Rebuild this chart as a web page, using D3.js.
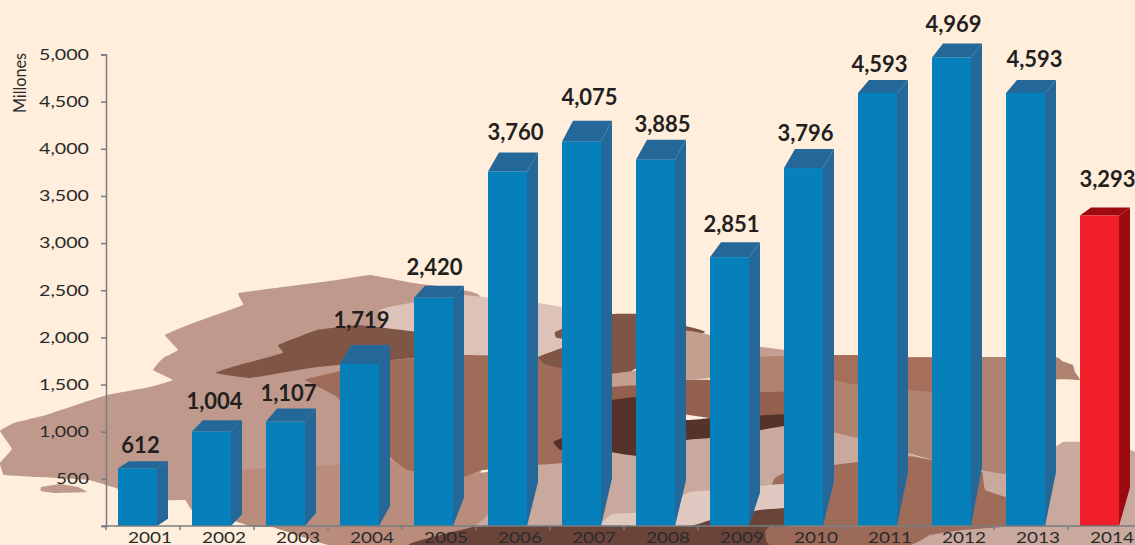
<!DOCTYPE html>
<html>
<head>
<meta charset="utf-8">
<script src="https://cdn.jsdelivr.net/npm/d3@7"></script>
<style>
  html, body { margin: 0; padding: 0; background: #feeedb; overflow: hidden; }
  svg { display: block; }
</style>
</head>
<body>
<div id="chart"></div>
<script>
(function() {

  // data
  var years = ['2001','2002','2003','2004','2005','2006','2007','2008','2009','2010','2011','2012','2013','2014'];
  var values = [612,1004,1107,1719,2420,3760,4075,3885,2851,3796,4593,4969,4593,3293];
  var yTicks = [0,500,1000,1500,2000,2500,3000,3500,4000,4500,5000];
  var highlightYear = '2014';
  var yTitle = 'Millones';

  var width = 1135, height = 545;

  var svg = d3.select('#chart')
              .append('svg')
              .attr('width', width)
              .attr('height', height);

  // backdrop map, traced by eye, back to front
  var mapLayers = [
    // west part
    ['#bf9a8c', [[0,431],[14,423],[46,415],[82,403],[107,395],[150,387],[173,380],[153,370],[163,358],[178,350],[165,335],[193,323],[243,305],[239,293],[337,280],[370,275],[413,283],[480,296],[480,480],[400,500],[330,545],[273,527],[253,527],[232,520],[192,510],[185,500],[155,500],[89,480],[36,477],[4,475],[0,463],[12,449]]],
    ['#bf9a8c', [[41,487],[60,484],[78,487],[87,492],[55,493],[41,491]]],
    // light middle
    ['#dcc2b9', [[380,310],[415,302],[464,295],[538,303],[562,307],[625,320],[625,373],[540,360],[463,358],[390,362]]],
    // south
    ['#c9a99d', [[470,480],[540,465],[612,450],[700,435],[790,425],[860,438],[930,460],[1006,472],[1055,447],[1063,442],[1080,442],[1135,452],[1135,545],[470,545]]],
    ['#b98c7c', [[192,510],[215,490],[242,470],[330,465],[390,460],[407,470],[463,476],[490,472],[492,510],[470,530],[410,545],[330,545],[273,527],[253,527],[232,520]]],
    // upper dark band
    ['#7f5545', [[215,373],[232,367],[283,353],[278,345],[317,330],[357,325],[417,332],[430,345],[413,358],[317,367],[250,378]]],
    ['#a06c5a', [[305,380],[323,375],[390,360],[463,355],[540,357],[625,372],[625,402],[612,450],[562,463],[537,465],[483,470],[463,477],[407,470],[390,457],[337,397]]],
    ['#7f5545', [[555,332],[590,318],[612,314],[640,314],[686,326],[705,332],[650,360],[630,372],[612,374],[575,372],[545,364],[538,357],[562,348],[600,342],[557,338]]],
    ['#c49f90', [[612,374],[650,368],[686,331],[710,335],[730,343],[784,350],[790,362],[730,365],[710,378],[686,380],[636,386],[612,387]]],
    ['#b08270', [[730,358],[790,356],[920,357],[1055,357],[1062,361],[1073,365],[1075,372],[1080,380],[1055,380],[1055,440],[1006,474],[932,460],[858,438],[820,430],[790,420],[760,395],[730,385]]],
    ['#a56f5c', [[790,350],[833,355],[858,355],[907,358],[932,358],[962,360],[970,393],[932,392],[858,385],[800,372]]],
    ['#94604d', [[612,387],[640,385],[686,380],[710,380],[760,392],[790,392],[790,415],[710,418],[612,402]]],
    // darkest core
    ['#55332a', [[612,400],[640,397],[686,420],[710,418],[790,414],[790,425],[710,438],[686,440],[640,456],[612,452],[590,425]]],
    ['#55332a', [[553,442],[562,438],[578,437],[575,448],[560,450]]],
    // lower right
    ['#a06c5a', [[770,490],[775,478],[790,470],[833,465],[858,462],[907,456],[932,460],[981,472],[1006,486],[1045,526],[800,526],[775,505]]],
    ['#c9a99d', [[983,472],[1006,486],[1006,497],[985,490]]],
    ['#dfc9c0', [[600,525],[612,514],[650,512],[690,492],[740,488],[784,484],[784,508],[760,510],[720,520],[690,526],[640,526]]],
    // bottom strip
    ['#6a4439', [[410,545],[473,527],[493,526],[530,526],[600,526],[690,526],[720,517],[760,510],[790,508],[790,530],[800,545]]],
    ['#9c6a58', [[770,527],[1000,527],[963,530],[930,535],[910,545],[770,545]]]
  ];

  var mapPath = d3.line().curve(d3.curveCardinalClosed.tension(0.8));

  svg.append('g')
     .selectAll('path')
     .data(mapLayers)
     .enter()
     .append('path')
     .attr('fill', function(d) {return d[0]})
     .attr('d', function(d) {return mapPath(d[1])});

  // scales
  var y = d3.scaleLinear().domain([0, 5000]).range([526, 54.5]);
  var x = d3.scaleBand().domain(years).range([106, 1142]).paddingInner(0);

  var step = x.step();
  var barOffset = 12, barWidth = 39, sideWidth = 11;

  // the original 3d effect: the side slants up with bar height, cap depth set per bar
  var sideRise = function(v) {return v * 0.0117};
  var capRise = [7,11,13,19,12,19,21,20,15,19,13,14,13,8];
  var labelNudge = [3,3,3,2,1,8,8,7,2,2,2,2,9,8];
  var labelLift = [8,11,8,17,11,12,16,8,10,8,8,11,13,20];

  var bars = svg.append('g')
    .selectAll('g')
    .data(years)
    .enter()
    .append('g');

  function fillFront(d) {return d === highlightYear ? '#f01e28' : '#0580bb'}
  function fillDark(d) {return d === highlightYear ? '#9d0a12' : '#24689a'}

  bars.append('path')
    .attr('fill', fillDark)
    .attr('d', function(d, i) {
      var x0 = x(d) + barOffset + barWidth, top = y(values[i]), r = capRise[i];
      return 'M' + x0 + ',' + top +
             'L' + (x0 + sideWidth) + ',' + (top - r) +
             'L' + (x0 + sideWidth) + ',' + (y(0) - sideRise(values[i])) +
             'L' + x0 + ',' + y(0) + 'Z';
    });

  bars.append('path')
    .attr('fill', fillDark)
    .attr('d', function(d, i) {
      var x0 = x(d) + barOffset, top = y(values[i]), r = capRise[i];
      return 'M' + x0 + ',' + top +
             'L' + (x0 + sideWidth) + ',' + (top - r) +
             'L' + (x0 + barWidth + sideWidth) + ',' + (top - r) +
             'L' + (x0 + barWidth) + ',' + top + 'Z';
    });

  bars.append('rect')
    .attr('fill', fillFront)
    .attr('x', function(d) {return x(d) + barOffset})
    .attr('y', function(d, i) {return y(values[i])})
    .attr('width', barWidth)
    .attr('height', function(d, i) {return y(0) - y(values[i])});

  bars.append('text')
    .attr('x', function(d, i) {return x(d) + barOffset + barWidth / 2 + labelNudge[i]})
    .attr('y', function(d, i) {return y(values[i]) - capRise[i] - labelLift[i]})
    .attr('text-anchor', 'middle')
    .attr('font-family', 'Lato, "Open Sans", sans-serif')
    .attr('font-weight', 700)
    .attr('font-size', 22)
    .attr('fill', '#231f20')
    .text(function(d, i) {return d3.format(',')(values[i])});

  // y axis
  var yAxis = d3.axisLeft(y)
    .tickValues(yTicks)
    .tickSize(5)
    .tickPadding(12)
    .tickFormat(function(d) {return d ? d3.format(',')(d) : ''});

  var yg = svg.append('g')
    .attr('transform', 'translate(106,0)')
    .call(yAxis);

  yg.selectAll('.domain, line').attr('stroke', '#777c82').attr('stroke-width', 1.5);
  yg.selectAll('text')
    .attr('font-family', 'Lato, sans-serif')
    .attr('font-size', 15)
    .attr('fill', '#2b2b2b')
    .attr('textLength', function(d) {return d < 1000 ? 33 : 50})
    .attr('lengthAdjust', 'spacingAndGlyphs');

  // x axis, ticks sit on the band edges
  var xg = svg.append('g');

  xg.append('line')
    .attr('x1', 102).attr('x2', width)
    .attr('y1', y(0)).attr('y2', y(0))
    .attr('stroke', '#777c82').attr('stroke-width', 1.5);

  xg.selectAll('line.tick')
    .data(years)
    .enter()
    .append('line')
    .attr('class', 'tick')
    .attr('x1', function(d) {return x(d)})
    .attr('x2', function(d) {return x(d)})
    .attr('y1', y(0)).attr('y2', y(0) + 4)
    .attr('stroke', '#777c82').attr('stroke-width', 1.5);

  xg.selectAll('text')
    .data(years)
    .enter()
    .append('text')
    .attr('x', function(d) {return x(d) + step / 2 + 7})
    .attr('y', 543)
    .attr('text-anchor', 'middle')
    .attr('font-family', 'Lato, sans-serif')
    .attr('font-size', 15)
    .attr('fill', '#2b2b2b')
    .attr('textLength', 44)
    .attr('lengthAdjust', 'spacingAndGlyphs')
    .text(function(d) {return d});

  svg.append('text')
    .attr('transform', 'translate(26,113) rotate(-90)')
    .attr('font-family', '"Liberation Sans Narrow", Lato, sans-serif')
    .attr('font-size', 18)
    .attr('fill', '#2b2b2b')
    .attr('textLength', 60)
    .attr('lengthAdjust', 'spacingAndGlyphs')
    .text(yTitle);

})()
</script>
</body>
</html>
